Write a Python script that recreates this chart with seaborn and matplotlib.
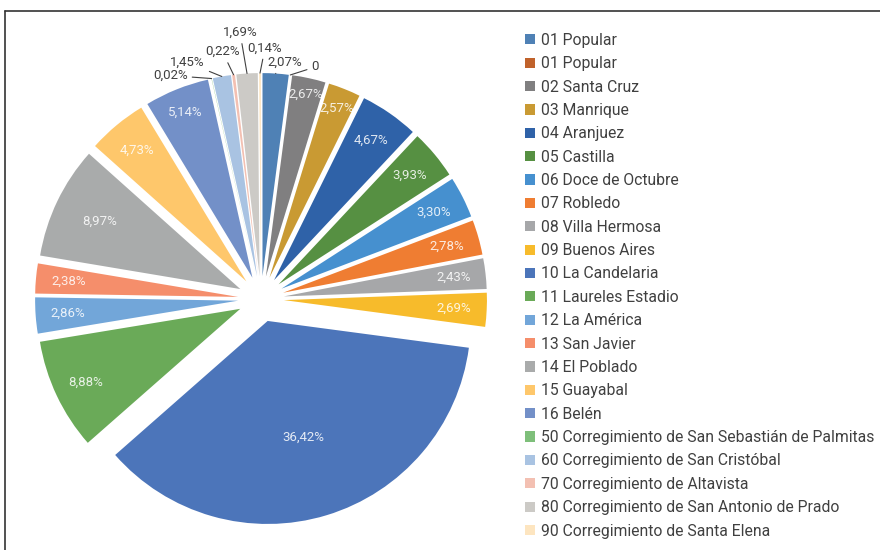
import numpy as np
import matplotlib
matplotlib.use("Agg")
import matplotlib.pyplot as plt
from matplotlib.lines import Line2D
import seaborn as sns

# Datos: participación por comuna / corregimiento
comunas = [
    "01 Popular", "01 Popular", "02 Santa Cruz", "03 Manrique", "04 Aranjuez",
    "05 Castilla", "06 Doce de Octubre", "07 Robledo", "08 Villa Hermosa",
    "09 Buenos Aires", "10 La Candelaria", "11 Laureles Estadio", "12 La América",
    "13 San Javier", "14 El Poblado", "15 Guayabal", "16 Belén",
    "50 Corregimiento de San Sebastián de Palmitas",
    "60 Corregimiento de San Cristóbal", "70 Corregimiento de Altavista",
    "80 Corregimiento de San Antonio de Prado", "90 Corregimiento de Santa Elena",
]
porcentajes = [2.07, 0.0, 2.67, 2.57, 4.67, 3.93, 3.30, 2.78, 2.43, 2.69, 36.42,
               8.88, 2.86, 2.38, 8.97, 4.73, 5.14, 0.02, 1.45, 0.22, 1.69, 0.14]
colores = ["#4f81b5", "#c0622b", "#807f80", "#c99a33", "#2f62a8", "#569042",
           "#4690cf", "#ef7d32", "#a6a7a9", "#f7bb2b", "#4c75ba", "#6aaa58",
           "#72a6d9", "#f58e6b", "#a9abab", "#fec76b", "#7390c8", "#7ebf7a",
           "#a9c3e2", "#f3c0b2", "#cccac6", "#fde5c0"]

# etiquetas fuera del sector: indice -> desplazamiento del texto (px) y alineacion
fuera = {17: (-24, 3, "right"), 18: (-17, 14, "right"), 19: (-11, 23, "center"),
         20: (-7, 41, "center"), 21: (5, 25, "center"), 0: (9, 11, "center"),
         1: (25, 8, "center")}
# distancia de las etiquetas internas (fraccion del radio)
dist_pct = {10: 0.6, 14: 0.77, 2: 0.92, 3: 0.9, 16: 0.88}


def fmt(v):
    return "0" if v == 0 else f"{v:.2f}".replace(".", ",") + "%"


sns.set_theme(style="white")
plt.rcParams["font.family"] = ["Roboto", "DejaVu Sans"]

W, H = 880, 550
fig = plt.figure(figsize=(W / 100, H / 100), dpi=100)

escala, cx, cy, half = 203, 261, 251, 1.3
ax = fig.add_axes([(cx - half * escala) / W, (cy - half * escala) / H,
                   2 * half * escala / W, 2 * half * escala / H])
expl = 0.113
wedges, _ = ax.pie(porcentajes, colors=colores, startangle=90, counterclock=False,
                   explode=[expl] * len(porcentajes), radius=1,
                   wedgeprops=dict(linewidth=0))
ax.set_xlim(-half, half)
ax.set_ylim(-half, half)
ax.set_aspect("equal")
ax.axis("off")

for i, w in enumerate(wedges):
    ang = np.deg2rad((w.theta1 + w.theta2) / 2)
    ux, uy = np.cos(ang), np.sin(ang)
    tx, ty = w.center
    if i in fuera:
        dx, dy, ha = fuera[i]
        ax.annotate(fmt(porcentajes[i]), xy=(tx + ux, ty + uy),
                    xytext=(dx, dy), textcoords="offset pixels",
                    ha=ha, va="center", fontsize=9.5, color="#404040",
                    arrowprops=dict(arrowstyle="-", color="#404040", lw=0.8,
                                    shrinkA=1, shrinkB=0))
    else:
        r = dist_pct.get(i, 0.84)
        ax.text(tx + r * ux, ty + r * uy, fmt(porcentajes[i]), ha="center",
                va="center", fontsize=9.5, color="white", alpha=0.85)

fig.legend(wedges, comunas, loc="upper left",
           bbox_to_anchor=(517 / W, 1 - 25 / H), frameon=False,
           fontsize=11.3, handlelength=0.62, handleheight=0.62,
           handletextpad=0.38, labelspacing=0.533, borderpad=0,
           labelcolor="#404040")

# marco superior e izquierdo
fig.add_artist(Line2D([5 / W, 1], [1 - 11 / H, 1 - 11 / H],
                      transform=fig.transFigure, color="#333333", lw=1.2))
fig.add_artist(Line2D([5 / W, 5 / W], [0, 1 - 11 / H],
                      transform=fig.transFigure, color="#333333", lw=1.2))

fig.savefig("out.png", dpi=100)
